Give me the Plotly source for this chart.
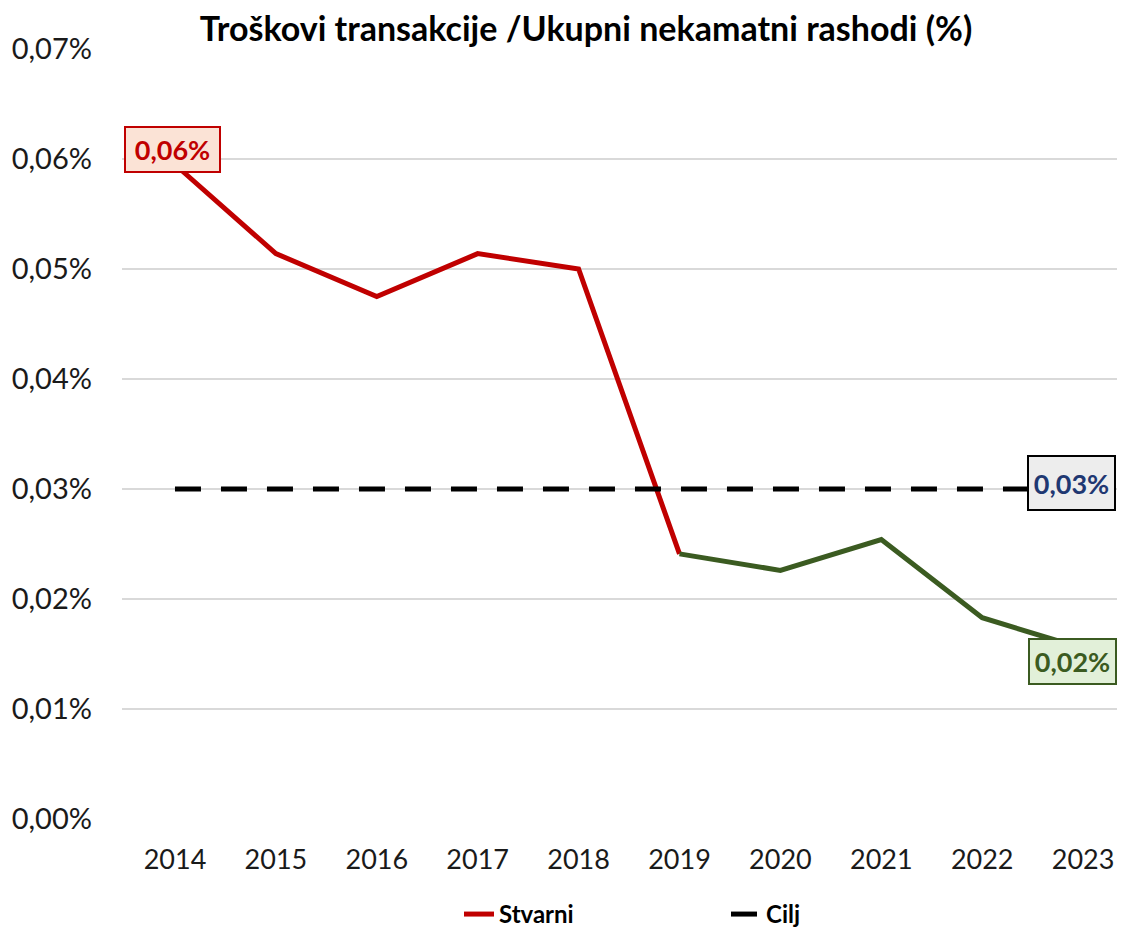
import plotly.graph_objects as go

years = ["2014", "2015", "2016", "2017", "2018", "2019", "2020", "2021", "2022", "2023"]
stvarni = [0.0595, 0.0514, 0.0475, 0.0514, 0.0500, 0.0241, 0.0226, 0.0254, 0.0183, 0.0155]
cilj = [0.03] * len(years)
red_idx = slice(0, 6)
green_idx = slice(5, 10)
y_ticks = [0.00, 0.01, 0.02, 0.03, 0.04, 0.05, 0.06, 0.07]

FONT = "Lato"
RED = "#C00000"
GREEN = "#3B5B21"
TXT = "#1A1A1A"


def fmt(v):
    return f"{v:.2f}".replace(".", ",") + "%"


x_idx = list(range(len(years)))

fig = go.Figure()
fig.add_trace(go.Scatter(
    x=x_idx[red_idx], y=stvarni[red_idx], mode="lines", name="Stvarni",
    line=dict(color=RED, width=5), showlegend=True))
fig.add_trace(go.Scatter(
    x=x_idx[green_idx], y=stvarni[green_idx], mode="lines", name="Stvarni",
    line=dict(color=GREEN, width=5), showlegend=False))
fig.add_trace(go.Scatter(
    x=x_idx, y=cilj, mode="lines", name="Cilj",
    line=dict(color="black", width=5, dash="26px,20px")))

fig.add_annotation(x=x_idx[0], y=stvarni[0], xref="x", yref="y", text=f"<b>{fmt(stvarni[0])}</b>",
                   showarrow=False, xshift=-2, yshift=15.5,
                   font=dict(family=FONT, size=27, color=RED),
                   bgcolor="#FBE3D6", bordercolor=RED, borderwidth=2, borderpad=4,
                   width=85, height=35)
fig.add_annotation(x=x_idx[-1], y=cilj[-1], xref="x", yref="y", text=f"<b>{fmt(cilj[-1])}</b>",
                   showarrow=False, xshift=-11.5, yshift=6,
                   font=dict(family=FONT, size=27, color="#1F3872"),
                   bgcolor="#EDEDED", bordercolor="black", borderwidth=2, borderpad=4,
                   width=77, height=44)
fig.add_annotation(x=x_idx[-1], y=stvarni[-1], xref="x", yref="y", text=f"<b>{fmt(stvarni[-1])}</b>",
                   showarrow=False, xshift=-11, yshift=-13,
                   font=dict(family=FONT, size=27, color=GREEN),
                   bgcolor="#E2F0D9", bordercolor=GREEN, borderwidth=2, borderpad=4,
                   width=77, height=35)

fig.update_layout(
    width=1109, height=925,
    paper_bgcolor="white", plot_bgcolor="white",
    margin=dict(l=114, r=0, t=41, b=114, autoexpand=False),
    title=dict(text="<b>Troškovi transakcije /Ukupni nekamatni rashodi (%)</b>",
               x=0.5212, xref="container", xanchor="center", y=0.9773, yref="container", yanchor="middle",
               font=dict(family=FONT, size=34, color="black")),
    font=dict(family=FONT, size=28, color=TXT),
    legend=dict(orientation="h", x=0.3387, xanchor="left", y=-0.1532, yanchor="bottom",
                font=dict(family=FONT, size=24, color="black", weight="bold"),
                entrywidth=222, entrywidthmode="pixels", tracegroupgap=0),
    showlegend=True,
)
fig.update_xaxes(range=[-0.525, 9.336], tickvals=x_idx, ticktext=years,
                 showgrid=False, showline=False, zeroline=False,
                 ticks="", ticklabelstandoff=22, ticklabeloverflow="allow",
                 tickfont=dict(family=FONT, size=27, color=TXT))
fig.update_yaxes(range=[0, 0.07], tickvals=y_ticks, ticktext=[fmt(v) for v in y_ticks],
                 showgrid=True, gridcolor="#D9D9D9", gridwidth=2, zeroline=False,
                 showline=False, ticks="", ticklabelstandoff=29,
                 tickfont=dict(family=FONT, size=29, color=TXT))

fig.write_html("out.html")
